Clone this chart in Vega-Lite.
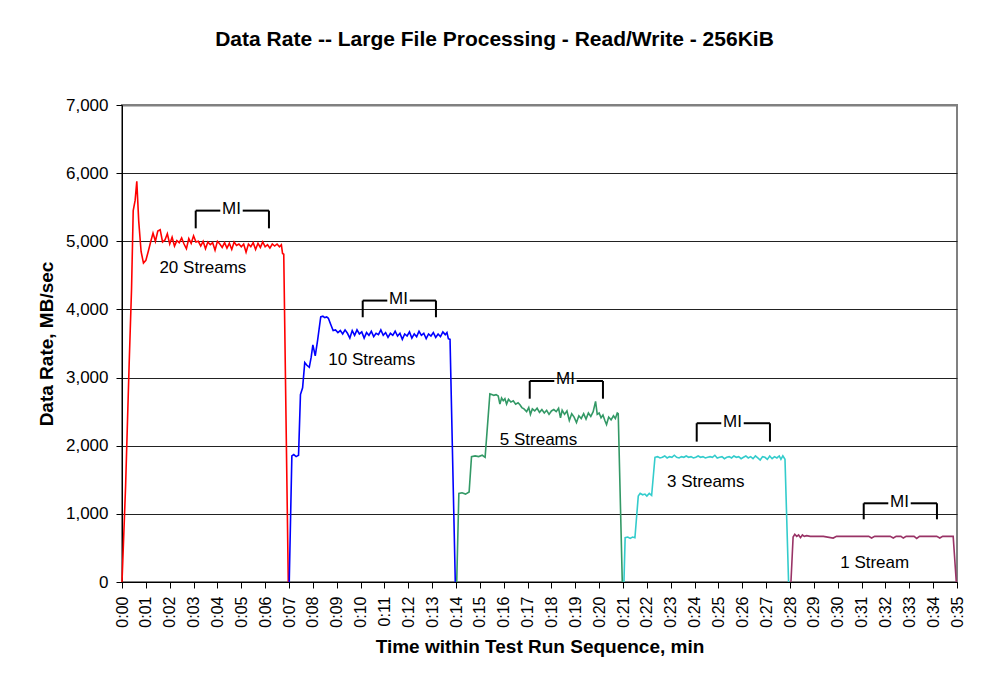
{
  "$schema": "https://vega.github.io/schema/vega-lite/v6.json",
  "width": 835,
  "height": 477,
  "autosize": {"type": "none"},
  "padding": {"left": 122, "top": 105, "right": 27, "bottom": 105},
  "background": "white",
  "title": {
    "text": "Data Rate -- Large File Processing - Read/Write - 256KiB",
    "font": "Liberation Sans",
    "fontSize": 21,
    "fontWeight": "bold",
    "color": "black",
    "anchor": "middle",
    "dx": -45,
    "offset": 46
  },
  "config": {
    "font": "Liberation Sans",
    "view": {"stroke": "#808080", "strokeWidth": 2},
    "axis": {
      "labelFont": "Liberation Sans",
      "titleFont": "Liberation Sans",
      "labelColor": "black",
      "titleColor": "black",
      "domainColor": "black",
      "tickColor": "black",
      "tickSize": 6,
      "labelPadding": 8,
      "labelOverlap": false
    },
    "axisX": {"labelOverlap": false, "labelFlush": false, "labelBound": false, "labelSeparation": 0}
  },
  "datasets": {
    "series": [
      {"s": "20", "t": 0, "v": 0}, {"s": "20", "t": 0.15, "v": 1400}, {"s": "20", "t": 0.3, "v": 3200}, {"s": "20", "t": 0.4, "v": 4300}, {"s": "20", "t": 0.47, "v": 5450}, {"s": "20", "t": 0.55, "v": 5600}, {"s": "20", "t": 0.62, "v": 5880}, {"s": "20", "t": 0.7, "v": 5300}, {"s": "20", "t": 0.8, "v": 4850}, {"s": "20", "t": 0.9, "v": 4680},
      {"s": "20", "t": 1.0, "v": 4720}, {"s": "20", "t": 1.1, "v": 4850}, {"s": "20", "t": 1.2, "v": 4990}, {"s": "20", "t": 1.3, "v": 5120}, {"s": "20", "t": 1.4, "v": 5000}, {"s": "20", "t": 1.5, "v": 5150}, {"s": "20", "t": 1.6, "v": 5170}, {"s": "20", "t": 1.7, "v": 4990}, {"s": "20", "t": 1.8, "v": 5020}, {"s": "20", "t": 1.9, "v": 5110},
      {"s": "20", "t": 2.0, "v": 4960}, {"s": "20", "t": 2.1, "v": 5060}, {"s": "20", "t": 2.2, "v": 4930}, {"s": "20", "t": 2.3, "v": 5010}, {"s": "20", "t": 2.4, "v": 4980}, {"s": "20", "t": 2.5, "v": 5050}, {"s": "20", "t": 2.6, "v": 4960}, {"s": "20", "t": 2.7, "v": 4890}, {"s": "20", "t": 2.8, "v": 5040}, {"s": "20", "t": 2.9, "v": 4970},
      {"s": "20", "t": 3.0, "v": 5080}, {"s": "20", "t": 3.1, "v": 4990}, {"s": "20", "t": 3.2, "v": 5000}, {"s": "20", "t": 3.3, "v": 4930}, {"s": "20", "t": 3.4, "v": 5000}, {"s": "20", "t": 3.5, "v": 4890}, {"s": "20", "t": 3.6, "v": 4990}, {"s": "20", "t": 3.7, "v": 4950}, {"s": "20", "t": 3.8, "v": 4980}, {"s": "20", "t": 3.9, "v": 4870},
      {"s": "20", "t": 4.0, "v": 5000}, {"s": "20", "t": 4.1, "v": 4960}, {"s": "20", "t": 4.2, "v": 4910}, {"s": "20", "t": 4.3, "v": 4980}, {"s": "20", "t": 4.4, "v": 4900}, {"s": "20", "t": 4.5, "v": 4970}, {"s": "20", "t": 4.6, "v": 4880}, {"s": "20", "t": 4.7, "v": 4990}, {"s": "20", "t": 4.8, "v": 4940}, {"s": "20", "t": 4.9, "v": 4960},
      {"s": "20", "t": 5.0, "v": 4920}, {"s": "20", "t": 5.1, "v": 4960}, {"s": "20", "t": 5.2, "v": 4840}, {"s": "20", "t": 5.3, "v": 4960}, {"s": "20", "t": 5.4, "v": 4920}, {"s": "20", "t": 5.5, "v": 4980}, {"s": "20", "t": 5.6, "v": 4880}, {"s": "20", "t": 5.7, "v": 4970}, {"s": "20", "t": 5.8, "v": 4910}, {"s": "20", "t": 5.9, "v": 4990},
      {"s": "20", "t": 6.0, "v": 4920}, {"s": "20", "t": 6.1, "v": 4950}, {"s": "20", "t": 6.2, "v": 4900}, {"s": "20", "t": 6.3, "v": 4960}, {"s": "20", "t": 6.4, "v": 4930}, {"s": "20", "t": 6.5, "v": 4960}, {"s": "20", "t": 6.6, "v": 4920}, {"s": "20", "t": 6.68, "v": 4950}, {"s": "20", "t": 6.73, "v": 4820}, {"s": "20", "t": 6.78, "v": 4810}, {"s": "20", "t": 6.97, "v": 0},

      {"s": "10", "t": 7.01, "v": 0}, {"s": "10", "t": 7.12, "v": 1850}, {"s": "10", "t": 7.2, "v": 1870}, {"s": "10", "t": 7.3, "v": 1840}, {"s": "10", "t": 7.4, "v": 1860}, {"s": "10", "t": 7.48, "v": 2750}, {"s": "10", "t": 7.57, "v": 2850}, {"s": "10", "t": 7.66, "v": 3220}, {"s": "10", "t": 7.75, "v": 3180}, {"s": "10", "t": 7.85, "v": 3150},
      {"s": "10", "t": 7.93, "v": 3300}, {"s": "10", "t": 8.0, "v": 3480}, {"s": "10", "t": 8.1, "v": 3320}, {"s": "10", "t": 8.2, "v": 3550}, {"s": "10", "t": 8.33, "v": 3890}, {"s": "10", "t": 8.42, "v": 3900}, {"s": "10", "t": 8.5, "v": 3880}, {"s": "10", "t": 8.58, "v": 3890}, {"s": "10", "t": 8.65, "v": 3870}, {"s": "10", "t": 8.75, "v": 3780},
      {"s": "10", "t": 8.85, "v": 3690}, {"s": "10", "t": 8.95, "v": 3700}, {"s": "10", "t": 9.05, "v": 3660}, {"s": "10", "t": 9.15, "v": 3690}, {"s": "10", "t": 9.25, "v": 3640}, {"s": "10", "t": 9.35, "v": 3700}, {"s": "10", "t": 9.45, "v": 3650}, {"s": "10", "t": 9.55, "v": 3580}, {"s": "10", "t": 9.65, "v": 3690}, {"s": "10", "t": 9.75, "v": 3620},
      {"s": "10", "t": 9.85, "v": 3700}, {"s": "10", "t": 9.95, "v": 3640}, {"s": "10", "t": 10.05, "v": 3670}, {"s": "10", "t": 10.15, "v": 3580}, {"s": "10", "t": 10.25, "v": 3660}, {"s": "10", "t": 10.35, "v": 3620}, {"s": "10", "t": 10.45, "v": 3680}, {"s": "10", "t": 10.55, "v": 3600}, {"s": "10", "t": 10.65, "v": 3650}, {"s": "10", "t": 10.75, "v": 3630},
      {"s": "10", "t": 10.85, "v": 3700}, {"s": "10", "t": 10.95, "v": 3620}, {"s": "10", "t": 11.05, "v": 3660}, {"s": "10", "t": 11.15, "v": 3590}, {"s": "10", "t": 11.25, "v": 3650}, {"s": "10", "t": 11.35, "v": 3620}, {"s": "10", "t": 11.45, "v": 3680}, {"s": "10", "t": 11.55, "v": 3610}, {"s": "10", "t": 11.65, "v": 3650}, {"s": "10", "t": 11.75, "v": 3560},
      {"s": "10", "t": 11.85, "v": 3640}, {"s": "10", "t": 11.95, "v": 3610}, {"s": "10", "t": 12.05, "v": 3670}, {"s": "10", "t": 12.15, "v": 3580}, {"s": "10", "t": 12.25, "v": 3640}, {"s": "10", "t": 12.35, "v": 3600}, {"s": "10", "t": 12.45, "v": 3680}, {"s": "10", "t": 12.55, "v": 3620}, {"s": "10", "t": 12.65, "v": 3650}, {"s": "10", "t": 12.75, "v": 3570},
      {"s": "10", "t": 12.85, "v": 3640}, {"s": "10", "t": 12.95, "v": 3610}, {"s": "10", "t": 13.05, "v": 3660}, {"s": "10", "t": 13.15, "v": 3590}, {"s": "10", "t": 13.25, "v": 3640}, {"s": "10", "t": 13.35, "v": 3600}, {"s": "10", "t": 13.45, "v": 3670}, {"s": "10", "t": 13.55, "v": 3630}, {"s": "10", "t": 13.62, "v": 3660}, {"s": "10", "t": 13.68, "v": 3570}, {"s": "10", "t": 13.75, "v": 3560}, {"s": "10", "t": 13.97, "v": 0},

      {"s": "5", "t": 14.03, "v": 0}, {"s": "5", "t": 14.12, "v": 1300}, {"s": "5", "t": 14.25, "v": 1310}, {"s": "5", "t": 14.4, "v": 1290}, {"s": "5", "t": 14.55, "v": 1320}, {"s": "5", "t": 14.65, "v": 1840}, {"s": "5", "t": 14.8, "v": 1850}, {"s": "5", "t": 14.95, "v": 1840}, {"s": "5", "t": 15.1, "v": 1860}, {"s": "5", "t": 15.22, "v": 1830},
      {"s": "5", "t": 15.42, "v": 2760}, {"s": "5", "t": 15.5, "v": 2750}, {"s": "5", "t": 15.58, "v": 2740}, {"s": "5", "t": 15.68, "v": 2750}, {"s": "5", "t": 15.77, "v": 2730}, {"s": "5", "t": 15.84, "v": 2610}, {"s": "5", "t": 15.91, "v": 2700}, {"s": "5", "t": 15.98, "v": 2660}, {"s": "5", "t": 16.05, "v": 2690}, {"s": "5", "t": 16.12, "v": 2610},
      {"s": "5", "t": 16.2, "v": 2680}, {"s": "5", "t": 16.3, "v": 2640}, {"s": "5", "t": 16.4, "v": 2660}, {"s": "5", "t": 16.5, "v": 2610}, {"s": "5", "t": 16.6, "v": 2630}, {"s": "5", "t": 16.68, "v": 2600}, {"s": "5", "t": 16.76, "v": 2560}, {"s": "5", "t": 16.85, "v": 2540}, {"s": "5", "t": 16.96, "v": 2500}, {"s": "5", "t": 17.05, "v": 2560},
      {"s": "5", "t": 17.12, "v": 2460}, {"s": "5", "t": 17.2, "v": 2540}, {"s": "5", "t": 17.3, "v": 2510}, {"s": "5", "t": 17.4, "v": 2550}, {"s": "5", "t": 17.5, "v": 2490}, {"s": "5", "t": 17.6, "v": 2530}, {"s": "5", "t": 17.7, "v": 2480}, {"s": "5", "t": 17.8, "v": 2520}, {"s": "5", "t": 17.9, "v": 2460}, {"s": "5", "t": 18.0, "v": 2510},
      {"s": "5", "t": 18.1, "v": 2530}, {"s": "5", "t": 18.2, "v": 2500}, {"s": "5", "t": 18.3, "v": 2550}, {"s": "5", "t": 18.38, "v": 2410}, {"s": "5", "t": 18.45, "v": 2520}, {"s": "5", "t": 18.55, "v": 2460}, {"s": "5", "t": 18.65, "v": 2510}, {"s": "5", "t": 18.75, "v": 2370}, {"s": "5", "t": 18.85, "v": 2470}, {"s": "5", "t": 18.95, "v": 2420},
      {"s": "5", "t": 19.05, "v": 2340}, {"s": "5", "t": 19.15, "v": 2440}, {"s": "5", "t": 19.25, "v": 2400}, {"s": "5", "t": 19.35, "v": 2470}, {"s": "5", "t": 19.45, "v": 2390}, {"s": "5", "t": 19.55, "v": 2480}, {"s": "5", "t": 19.65, "v": 2430}, {"s": "5", "t": 19.75, "v": 2500}, {"s": "5", "t": 19.85, "v": 2650}, {"s": "5", "t": 19.92, "v": 2460},
      {"s": "5", "t": 20.0, "v": 2480}, {"s": "5", "t": 20.08, "v": 2410}, {"s": "5", "t": 20.16, "v": 2450}, {"s": "5", "t": 20.24, "v": 2370}, {"s": "5", "t": 20.31, "v": 2310}, {"s": "5", "t": 20.4, "v": 2420}, {"s": "5", "t": 20.5, "v": 2380}, {"s": "5", "t": 20.6, "v": 2440}, {"s": "5", "t": 20.68, "v": 2400}, {"s": "5", "t": 20.76, "v": 2480}, {"s": "5", "t": 20.8, "v": 2470}, {"s": "5", "t": 20.97, "v": 0},

      {"s": "3", "t": 21.04, "v": 0}, {"s": "3", "t": 21.09, "v": 650}, {"s": "3", "t": 21.2, "v": 660}, {"s": "3", "t": 21.3, "v": 640}, {"s": "3", "t": 21.4, "v": 660}, {"s": "3", "t": 21.5, "v": 650}, {"s": "3", "t": 21.64, "v": 1260}, {"s": "3", "t": 21.72, "v": 1300}, {"s": "3", "t": 21.82, "v": 1280}, {"s": "3", "t": 21.92, "v": 1290},
      {"s": "3", "t": 22.0, "v": 1260}, {"s": "3", "t": 22.1, "v": 1300}, {"s": "3", "t": 22.2, "v": 1270}, {"s": "3", "t": 22.34, "v": 1830}, {"s": "3", "t": 22.45, "v": 1840}, {"s": "3", "t": 22.55, "v": 1820}, {"s": "3", "t": 22.65, "v": 1830}, {"s": "3", "t": 22.75, "v": 1850}, {"s": "3", "t": 22.85, "v": 1820}, {"s": "3", "t": 22.95, "v": 1840},
      {"s": "3", "t": 23.05, "v": 1830}, {"s": "3", "t": 23.15, "v": 1860}, {"s": "3", "t": 23.25, "v": 1830}, {"s": "3", "t": 23.35, "v": 1820}, {"s": "3", "t": 23.45, "v": 1840}, {"s": "3", "t": 23.55, "v": 1830}, {"s": "3", "t": 23.65, "v": 1850}, {"s": "3", "t": 23.75, "v": 1830}, {"s": "3", "t": 23.85, "v": 1840}, {"s": "3", "t": 23.95, "v": 1820},
      {"s": "3", "t": 24.05, "v": 1830}, {"s": "3", "t": 24.15, "v": 1850}, {"s": "3", "t": 24.25, "v": 1830}, {"s": "3", "t": 24.35, "v": 1840}, {"s": "3", "t": 24.45, "v": 1820}, {"s": "3", "t": 24.55, "v": 1830}, {"s": "3", "t": 24.65, "v": 1840}, {"s": "3", "t": 24.75, "v": 1830}, {"s": "3", "t": 24.85, "v": 1860}, {"s": "3", "t": 24.95, "v": 1820},
      {"s": "3", "t": 25.05, "v": 1830}, {"s": "3", "t": 25.15, "v": 1840}, {"s": "3", "t": 25.25, "v": 1810}, {"s": "3", "t": 25.35, "v": 1830}, {"s": "3", "t": 25.45, "v": 1840}, {"s": "3", "t": 25.55, "v": 1820}, {"s": "3", "t": 25.65, "v": 1850}, {"s": "3", "t": 25.75, "v": 1830}, {"s": "3", "t": 25.85, "v": 1840}, {"s": "3", "t": 25.95, "v": 1810},
      {"s": "3", "t": 26.05, "v": 1830}, {"s": "3", "t": 26.15, "v": 1850}, {"s": "3", "t": 26.25, "v": 1820}, {"s": "3", "t": 26.35, "v": 1840}, {"s": "3", "t": 26.45, "v": 1810}, {"s": "3", "t": 26.55, "v": 1850}, {"s": "3", "t": 26.65, "v": 1820}, {"s": "3", "t": 26.75, "v": 1790}, {"s": "3", "t": 26.85, "v": 1840}, {"s": "3", "t": 26.95, "v": 1830},
      {"s": "3", "t": 27.05, "v": 1800}, {"s": "3", "t": 27.15, "v": 1850}, {"s": "3", "t": 27.25, "v": 1810}, {"s": "3", "t": 27.35, "v": 1840}, {"s": "3", "t": 27.45, "v": 1820}, {"s": "3", "t": 27.55, "v": 1850}, {"s": "3", "t": 27.62, "v": 1800}, {"s": "3", "t": 27.7, "v": 1850}, {"s": "3", "t": 27.79, "v": 1800}, {"s": "3", "t": 27.94, "v": 0},

      {"s": "1", "t": 28.04, "v": 0}, {"s": "1", "t": 28.13, "v": 660}, {"s": "1", "t": 28.2, "v": 700}, {"s": "1", "t": 28.28, "v": 670}, {"s": "1", "t": 28.36, "v": 690}, {"s": "1", "t": 28.44, "v": 650}, {"s": "1", "t": 28.52, "v": 690}, {"s": "1", "t": 28.6, "v": 670}, {"s": "1", "t": 28.7, "v": 680}, {"s": "1", "t": 28.85, "v": 670},
      {"s": "1", "t": 29.4, "v": 670}, {"s": "1", "t": 29.81, "v": 645}, {"s": "1", "t": 29.95, "v": 670}, {"s": "1", "t": 30.5, "v": 670}, {"s": "1", "t": 31.3, "v": 670}, {"s": "1", "t": 31.42, "v": 645}, {"s": "1", "t": 31.55, "v": 670}, {"s": "1", "t": 32.2, "v": 670}, {"s": "1", "t": 32.33, "v": 645}, {"s": "1", "t": 32.45, "v": 670},
      {"s": "1", "t": 32.65, "v": 670}, {"s": "1", "t": 32.75, "v": 645}, {"s": "1", "t": 32.87, "v": 670}, {"s": "1", "t": 33.2, "v": 670}, {"s": "1", "t": 33.31, "v": 640}, {"s": "1", "t": 33.43, "v": 670}, {"s": "1", "t": 34.15, "v": 670}, {"s": "1", "t": 34.28, "v": 645}, {"s": "1", "t": 34.4, "v": 670}, {"s": "1", "t": 34.84, "v": 670}, {"s": "1", "t": 34.97, "v": 0}
    ],
    "brackets": [
      {"t": 3.09, "t2": 4.12, "v": 5450, "v2": 5450}, {"t": 5.06, "t2": 6.16, "v": 5450, "v2": 5450}, {"t": 3.09, "t2": 3.09, "v": 5450, "v2": 5190}, {"t": 6.16, "t2": 6.16, "v": 5450, "v2": 5190},
      {"t": 10.09, "t2": 11.12, "v": 4130, "v2": 4130}, {"t": 12.06, "t2": 13.16, "v": 4130, "v2": 4130}, {"t": 10.09, "t2": 10.09, "v": 4130, "v2": 3885}, {"t": 13.16, "t2": 13.16, "v": 4130, "v2": 3885},
      {"t": 17.09, "t2": 18.12, "v": 2950, "v2": 2950}, {"t": 19.06, "t2": 20.16, "v": 2950, "v2": 2950}, {"t": 17.09, "t2": 17.09, "v": 2950, "v2": 2690}, {"t": 20.16, "t2": 20.16, "v": 2950, "v2": 2690},
      {"t": 24.09, "t2": 25.12, "v": 2330, "v2": 2330}, {"t": 26.06, "t2": 27.16, "v": 2330, "v2": 2330}, {"t": 24.09, "t2": 24.09, "v": 2330, "v2": 2060}, {"t": 27.16, "t2": 27.16, "v": 2330, "v2": 2060},
      {"t": 31.09, "t2": 32.12, "v": 1155, "v2": 1155}, {"t": 33.06, "t2": 34.16, "v": 1155, "v2": 1155}, {"t": 31.09, "t2": 31.09, "v": 1155, "v2": 920}, {"t": 34.16, "t2": 34.16, "v": 1155, "v2": 920}
    ],
    "mi": [
      {"t": 4.59, "v": 5475, "label": "MI"},
      {"t": 11.59, "v": 4155, "label": "MI"},
      {"t": 18.59, "v": 2975, "label": "MI"},
      {"t": 25.59, "v": 2355, "label": "MI"},
      {"t": 32.59, "v": 1180, "label": "MI"}
    ],
    "streams": [
      {"t": 3.39, "v": 4604, "label": "20 Streams"},
      {"t": 10.47, "v": 3258, "label": "10 Streams"},
      {"t": 17.46, "v": 2084, "label": "5 Streams"},
      {"t": 24.47, "v": 1472, "label": "3 Streams"},
      {"t": 31.55, "v": 283, "label": "1 Stream"}
    ]
  },
  "encoding": {
    "x": {
      "field": "t", "type": "quantitative",
      "scale": {"domain": [0, 35], "nice": false, "zero": false},
      "axis": {
        "title": "Time within Test Run Sequence, min",
        "titleFontSize": 19, "titleFontWeight": "bold", "titlePadding": 10,
        "values": [0,1,2,3,4,5,6,7,8,9,10,11,12,13,14,15,16,17,18,19,20,21,22,23,24,25,26,27,28,29,30,31,32,33,34,35],
        "labelExpr": "'0:' + (datum.value < 10 ? '0' : '') + datum.value",
        "labelAngle": 270, "labelFontSize": 16, "labelOverlap": false, "labelFlush": false, "labelSeparation": 0,
        "grid": false
      }
    },
    "y": {
      "field": "v", "type": "quantitative",
      "scale": {"domain": [0, 7000], "nice": false},
      "axis": {
        "title": "Data Rate, MB/sec",
        "titleFontSize": 19, "titleFontWeight": "bold", "titlePadding": 9,
        "values": [0,1000,2000,3000,4000,5000,6000,7000],
        "format": ",.0f", "labelFontSize": 17,
        "grid": true,
        "gridColor": {"condition": {"test": "datum.value == 7000", "value": "#808080"}, "value": "#222222"},
        "gridWidth": {"condition": {"test": "datum.value == 7000", "value": 2}, "value": 1}
      }
    }
  },
  "layer": [
    {
      "data": {"name": "series"},
      "mark": {"type": "line", "strokeWidth": 1.6, "interpolate": "linear"},
      "encoding": {
        "color": {
          "field": "s", "type": "nominal",
          "scale": {"domain": ["20", "10", "5", "3", "1"], "range": ["#FF0000", "#0000FF", "#339966", "#33CCCC", "#993366"]},
          "legend": null
        }
      }
    },
    {
      "data": {"name": "brackets"},
      "mark": {"type": "rule", "color": "black", "strokeWidth": 2},
      "encoding": {
        "x2": {"field": "t2"},
        "y2": {"field": "v2"}
      }
    },
    {
      "data": {"name": "mi"},
      "mark": {"type": "text", "fontSize": 17, "font": "Liberation Sans", "color": "black", "baseline": "middle", "align": "center"},
      "encoding": {
        "text": {"field": "label"}
      }
    },
    {
      "data": {"name": "streams"},
      "mark": {"type": "text", "fontSize": 17, "font": "Liberation Sans", "color": "black", "baseline": "middle", "align": "center"},
      "encoding": {
        "text": {"field": "label"}
      }
    }
  ]
}
